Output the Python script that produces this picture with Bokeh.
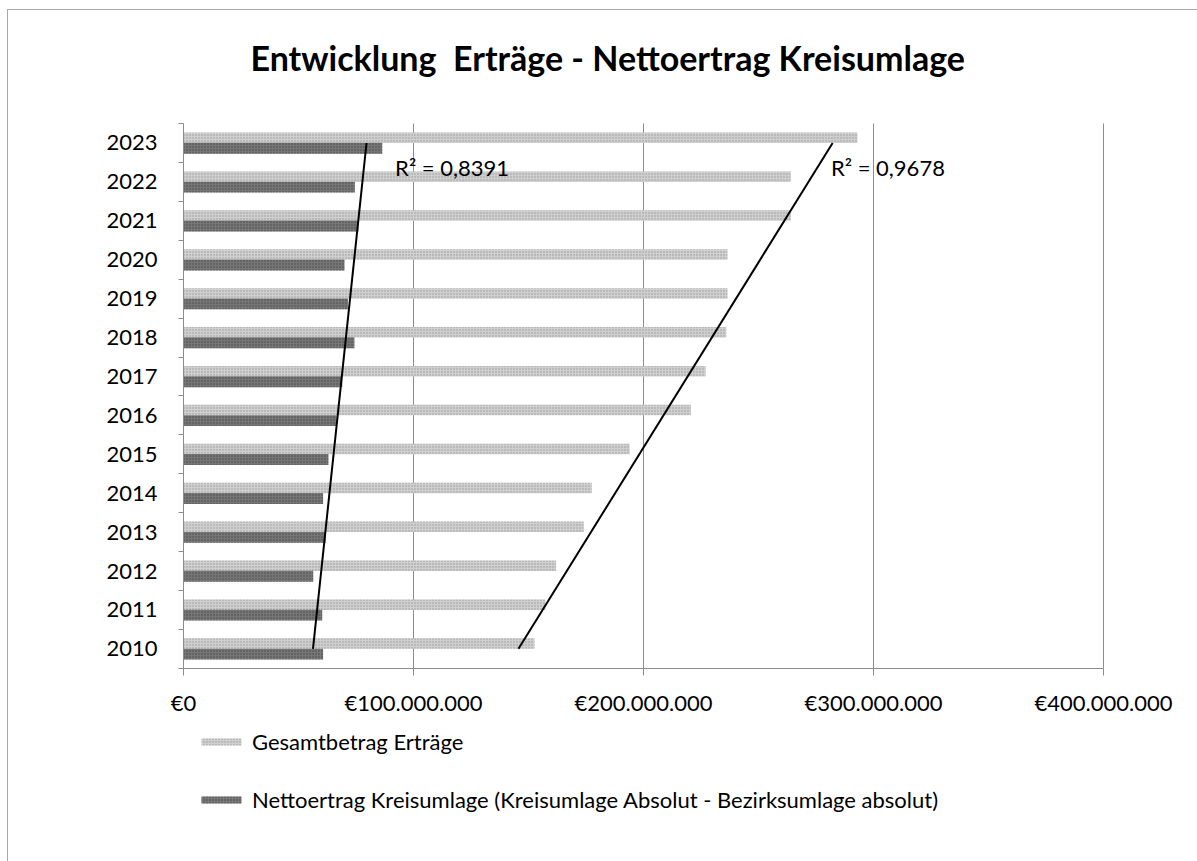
import numpy as np
from bokeh.plotting import figure
from bokeh.models import ColumnDataSource, Range1d, FixedTicker, Legend, LegendItem
from bokeh.core.properties import value
from bokeh.embed import file_html
from bokeh.resources import INLINE

years = ["2010", "2011", "2012", "2013", "2014", "2015", "2016",
         "2017", "2018", "2019", "2020", "2021", "2022", "2023"]
gesamt = [152.6, 157.4, 162.0, 174.0, 177.5, 194.0, 220.6,
          227.0, 236.0, 236.5, 236.5, 264.0, 264.0, 293.0]   # Mio. EUR
netto = [60.7, 60.3, 56.4, 61.8, 60.7, 63.0, 66.5,
         69.0, 74.3, 71.5, 70.0, 76.0, 74.5, 86.4]          # Mio. EUR
x_ticks = [0, 100e6, 200e6, 300e6, 400e6]
x_tick_labels = ["€0", "€100.000.000", "€200.000.000", "€300.000.000", "€400.000.000"]
r2_labels = ["R² = 0,8391", "R² = 0,9678"]
legend_labels = ["Gesamtbetrag Erträge",
                 "Nettoertrag Kreisumlage (Kreisumlage Absolut - Bezirksumlage absolut)"]
title_text = "Entwicklung\u00a0 Erträge - Nettoertrag Kreisumlage"

FONT = "Lato"
GRID = "#8c8c8c"
n = len(years)
pos = np.arange(n) + 0.5
g_abs = np.array(gesamt) * 1e6
n_abs = np.array(netto) * 1e6

src = ColumnDataSource(dict(y_g=pos + 0.135, y_n=pos - 0.135, g=g_abs, n=n_abs))

# The frame covers almost the whole chart area (so that the axis labels and the
# legend are not clipped); both axes are fixed at the value / category origin.
p = figure(width=1190, height=852, output_backend="svg", toolbar_location=None,
           x_range=Range1d(-34.783e6, 439.13e6), y_range=Range1d(-3.809, n + 0.592),
           min_border_left=95, min_border_right=5, min_border_top=90,
           min_border_bottom=46)
p.styles = {"margin-left": "7px", "margin-top": "9px",
            "border-left": "1px solid #a8a8a8", "border-top": "1px solid #a8a8a8"}
p.outline_line_color = None
p.background_fill_color = "white"
p.border_fill_color = "white"
p.xgrid.visible = False
p.ygrid.visible = False

# vertical grid lines at the value ticks, only over the category area
p.segment(x0=x_ticks[1:], y0=[0] * 4, x1=x_ticks[1:], y1=[n] * 4,
          line_color=GRID, line_width=1)

# bars
r_g = p.hbar(y="y_g", right="g", left=0, height=0.27, source=src,
             fill_color="#cfcfcf", line_color=None,
             hatch_pattern="dot", hatch_color="#9a9a9a", hatch_scale=3, hatch_weight=1)
r_n = p.hbar(y="y_n", right="n", left=0, height=0.28, source=src,
             fill_color="#767676", line_color=None,
             hatch_pattern="dot", hatch_color="#474747", hatch_scale=3, hatch_weight=1)

# linear trend lines (least squares on category index)
idx = np.arange(1, n + 1)
for vals in (n_abs, g_abs):
    k, d = np.polyfit(idx, vals, 1)
    p.line(x=[k * idx[0] + d, k * idx[-1] + d], y=[pos[0], pos[-1]],
           line_color="black", line_width=2)

# R² labels
lab_kw = dict(text_font=value(FONT), text_font_size="22px", text_color="black",
              text_baseline="middle", text_align="left")
p.text(x=[92.0e6], y=[pos[-1] - 0.62], text=[r2_labels[0]], **lab_kw)
p.text(x=[281.5e6], y=[pos[-1] - 0.62], text=[r2_labels[1]], **lab_kw)

# x axis (placed at y = 0)
xa = p.xaxis[0]
xa.fixed_location = 0
xa.bounds = (0, 400e6)
xa.ticker = FixedTicker(ticks=x_ticks)
xa.major_label_overrides = {t: l for t, l in zip(x_ticks, x_tick_labels)}
xa.axis_line_color = GRID
xa.major_tick_line_color = GRID
xa.major_tick_in = 0
xa.major_tick_out = 7
xa.minor_tick_line_color = None
xa.major_label_text_font = FONT
xa.major_label_text_font_size = "22px"
xa.major_label_text_color = "black"
xa.major_label_standoff = 14

# y axis (placed at x = 0)
ya = p.yaxis[0]
ya.fixed_location = 0
ya.bounds = (0, n)
ya.ticker = FixedTicker(ticks=list(pos), minor_ticks=list(range(n + 1)))
ya.major_label_overrides = {float(pp): y for pp, y in zip(pos, years)}
ya.axis_line_color = GRID
ya.major_tick_line_color = None
ya.major_tick_out = 0
ya.major_tick_in = 0
ya.minor_tick_line_color = GRID
ya.minor_tick_out = 5
ya.minor_tick_in = 0
ya.major_label_text_font = FONT
ya.major_label_text_font_size = "22px"
ya.major_label_text_color = "black"
ya.major_label_standoff = 21

# title
p.title.text = title_text
p.title.text_font = FONT
p.title.text_font_size = "34px"
p.title.text_font_style = "bold"
p.title.text_color = "black"
p.title.align = "left"
p.title.offset = 147
p.title.standoff = 45

# legend
legend = Legend(items=[LegendItem(label=legend_labels[0], renderers=[r_g]),
                       LegendItem(label=legend_labels[1], renderers=[r_n])],
                location=(93, 3), orientation="vertical",
                glyph_width=50, glyph_height=9, spacing=31, label_height=24,
                label_text_font=FONT, label_text_font_size="22px",
                label_text_color="black", label_standoff=6,
                border_line_color=None, background_fill_alpha=0,
                padding=0, margin=0)
p.add_layout(legend, "center")

open("out.html", "w").write(file_html(p, INLINE))
